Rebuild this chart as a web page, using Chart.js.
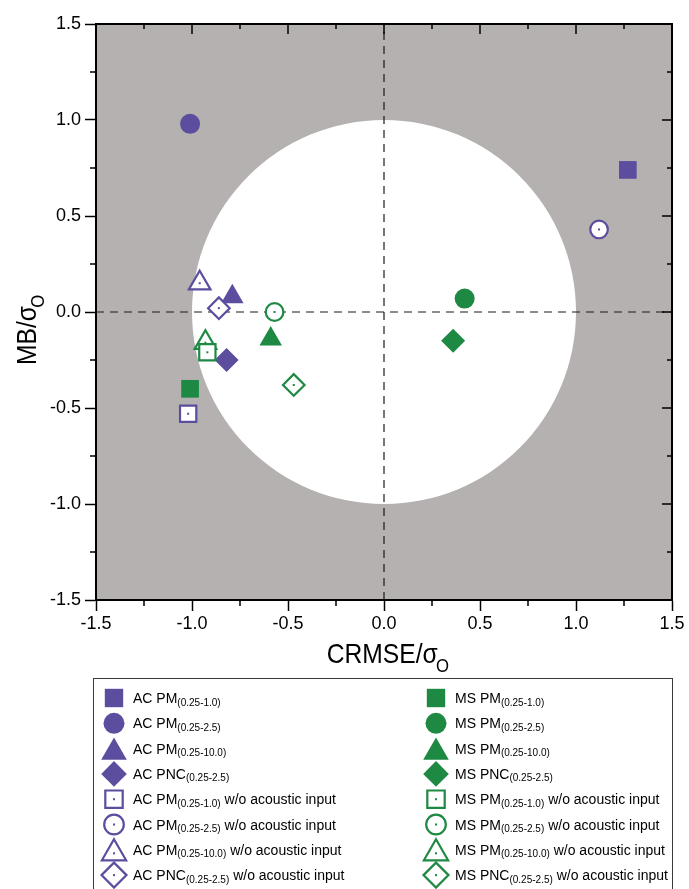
<!DOCTYPE html>
<html>
<head>
<meta charset="utf-8">
<title>Target diagram</title>
<script src="https://cdn.jsdelivr.net/npm/chart.js@4.4.1/dist/chart.umd.min.js"></script>
<style>
    html, body { margin: 0; padding: 0; background: #ffffff; }
    canvas { display: block; }
</style>
</head>
<body>
<canvas id="myChart" width="689" height="889"></canvas>
<script>
// x = CRMSE/sigma_O, y = MB/sigma_O
const metricMain = ['PM', 'PM', 'PM', 'PNC'];
const metricSub = ['(0.25-1.0)', '(0.25-2.5)', '(0.25-10.0)', '(0.25-2.5)'];
const noAcousticText = ' w/o acoustic input';

// AC
const acX = [1.27, -1.01, -0.79, -0.82];
const acY = [0.74, 0.98, 0.08, -0.25];
const acWoX = [-1.02, 1.12, -0.96, -0.86];
const acWoY = [-0.53, 0.43, 0.15, 0.02];

// MS
const msX = [-1.01, 0.42, -0.59, 0.36];
const msY = [-0.40, 0.07, -0.14, -0.15];
const msWoX = [-0.92, -0.57, -0.93, -0.47];
const msWoY = [-0.21, 0.00, -0.16, -0.38];

// axis ticks
const axisTicks = [-1.5, -1.0, -0.5, 0.0, 0.5, 1.0, 1.5];
const minorTicks = [-1.25, -0.75, -0.25, 0.25, 0.75, 1.25];

const colAC = '#5c4d9f';
const colMS = '#1e8943';
const grey = '#b5b1b0';
const fontFamily = '"Liberation Sans", Arial, sans-serif';

const pointStyles = ['rect', 'circle', 'triangle', 'rectRot'];
const filledRadius = [12.5, 10, 13, 12];
const openRadius = [11.5, 8.8, 12.5, 10.8];
const legendFilledRadius = [13, 10.5, 14.8, 12.8];
const legendOpenRadius = [12.3, 9.8, 14, 12.5];

const makeSets = function (group, color, xs, ys, open) {
    return metricMain.map((m, i) => ({
        label: group + ' ' + m + metricSub[i] + (open ? noAcousticText : ''),
        data: [{ x: xs[i], y: ys[i] }],
        pointStyle: pointStyles[i],
        pointRadius: open ? openRadius[i] : filledRadius[i],
        pointHoverRadius: open ? openRadius[i] : filledRadius[i],
        backgroundColor: open ? '#ffffff' : color,
        borderColor: color,
        borderWidth: open ? 2.2 : 0,
        hoverBorderWidth: open ? 2.2 : 0,
        isOpen: open
    }));
};

// open symbols first so they sit on top
const datasets = [].concat(
    makeSets('AC', colAC, acWoX, acWoY, true),
    makeSets('MS', colMS, msWoX, msWoY, true),
    makeSets('AC', colAC, acX, acY, false),
    makeSets('MS', colMS, msX, msY, false)
);

const drawMarker = function (ctx, style, radius, x, y, color, open) {
    ctx.save();
    ctx.fillStyle = open ? '#ffffff' : color;
    ctx.strokeStyle = color;
    ctx.lineWidth = 2.2;
    Chart.helpers.drawPoint(ctx, { pointStyle: style, radius: radius, rotation: 0, borderWidth: open ? 2.2 : 0 }, x, y);
    if (open) {
        ctx.fillStyle = color;
        ctx.fillRect(x - 1, y - 1, 2, 2);
    }
    ctx.restore();
};

const drawSigmaTitle = function (ctx, main) {
    ctx.save();
    ctx.scale(0.88, 1);
    ctx.fillStyle = '#000';
    ctx.textAlign = 'left';
    ctx.textBaseline = 'alphabetic';
    ctx.font = '28px ' + fontFamily;
    ctx.fillText(main + 'σ', 0, 0);
    const w = ctx.measureText(main + 'σ').width;
    ctx.font = '19px ' + fontFamily;
    ctx.fillText('O', w - 2, 8.7);
    ctx.restore();
};

const targetPlugin = {
    id: 'targetPlugin',
    beforeDraw(chart) {
        const { ctx, chartArea: a, scales } = chart;
        ctx.save();
        ctx.fillStyle = grey;
        ctx.fillRect(a.left, a.top, a.right - a.left, a.bottom - a.top);
        // unit circle
        const cx = scales.x.getPixelForValue(0);
        const cy = scales.y.getPixelForValue(0);
        const r = scales.x.getPixelForValue(1) - cx;
        ctx.beginPath();
        ctx.rect(a.left, a.top, a.right - a.left, a.bottom - a.top);
        ctx.clip();
        ctx.beginPath();
        ctx.arc(cx, cy, r, 0, Math.PI * 2);
        ctx.fillStyle = '#ffffff';
        ctx.fill();
        ctx.restore();
    },
    beforeDatasetsDraw(chart) {
        const { ctx, chartArea: a, scales } = chart;
        const cx = scales.x.getPixelForValue(0);
        const cy = scales.y.getPixelForValue(0);
        ctx.save();
        ctx.strokeStyle = '#1a1a1a';
        ctx.lineWidth = 1.2;
        ctx.setLineDash([8, 6]);
        ctx.beginPath();
        ctx.moveTo(a.left, cy);
        ctx.lineTo(a.right, cy);
        ctx.moveTo(cx, a.bottom);
        ctx.lineTo(cx, a.top);
        ctx.stroke();
        ctx.restore();
    },
    afterDatasetsDraw(chart) {
        const ctx = chart.ctx;
        // centre dots of the open symbols
        chart.data.datasets.forEach((ds, i) => {
            if (!ds.isOpen) return;
            chart.getDatasetMeta(i).data.forEach(pt => {
                ctx.fillStyle = ds.borderColor;
                ctx.fillRect(pt.x - 1, pt.y - 1, 2, 2);
            });
        });
    },
    afterDraw(chart) {
        const { ctx, chartArea: a, scales } = chart;
        ctx.save();
        // top and right frame
        ctx.strokeStyle = '#000';
        ctx.lineWidth = 2;
        ctx.beginPath();
        ctx.moveTo(a.left, a.top);
        ctx.lineTo(a.right, a.top);
        ctx.lineTo(a.right, a.bottom);
        ctx.stroke();

        // inner ticks on top / right, minor ticks everywhere
        ctx.lineWidth = 1.5;
        ctx.beginPath();
        axisTicks.forEach(v => {
            const px = scales.x.getPixelForValue(v);
            const py = scales.y.getPixelForValue(v);
            ctx.moveTo(px, a.top); ctx.lineTo(px, a.top + 10);
            ctx.moveTo(a.right, py); ctx.lineTo(a.right - 10, py);
        });
        minorTicks.forEach(v => {
            const px = scales.x.getPixelForValue(v);
            const py = scales.y.getPixelForValue(v);
            ctx.moveTo(px, a.top); ctx.lineTo(px, a.top + 5);
            ctx.moveTo(a.right, py); ctx.lineTo(a.right - 5, py);
            ctx.moveTo(px, a.bottom); ctx.lineTo(px, a.bottom + 6);
            ctx.moveTo(a.left, py); ctx.lineTo(a.left - 6, py);
        });
        ctx.stroke();

        // axis titles
        ctx.save();
        ctx.translate(326.7, 663);
        drawSigmaTitle(ctx, 'CRMSE/');
        ctx.restore();
        ctx.save();
        ctx.translate(35.7, 365);
        ctx.rotate(-Math.PI / 2);
        drawSigmaTitle(ctx, 'MB/');
        ctx.restore();

        // legend box
        ctx.strokeStyle = '#3a3a3a';
        ctx.lineWidth = 1;
        ctx.strokeRect(93.5, 678.5, 579, 240);

        const rowTop = 698;
        const rowStep = 25.3;
        const cols = [
            { group: 'AC', color: colAC, mx: 114, tx: 133 },
            { group: 'MS', color: colMS, mx: 436, tx: 455 }
        ];
        cols.forEach(c => {
            for (let k = 0; k < 8; k++) {
                const open = k >= 4;
                const i = k % 4;
                const y = rowTop + k * rowStep;
                const r = open ? legendOpenRadius[i] : legendFilledRadius[i];
                const my = pointStyles[i] === 'triangle' ? y + r / 4 : y;
                drawMarker(ctx, pointStyles[i], r, c.mx, my, c.color, open);

                let x = c.tx;
                const base = y + 5;
                ctx.fillStyle = '#000';
                ctx.textAlign = 'left';
                ctx.textBaseline = 'alphabetic';
                ctx.font = '14px ' + fontFamily;
                const t = c.group + ' ' + metricMain[i];
                ctx.fillText(t, x, base);
                x += ctx.measureText(t).width;
                ctx.font = '10px ' + fontFamily;
                ctx.fillText(metricSub[i], x, base + 2.5);
                x += ctx.measureText(metricSub[i]).width;
                if (open) {
                    ctx.font = '14px ' + fontFamily;
                    ctx.fillText(noAcousticText, x, base);
                }
            }
        });
        ctx.restore();
    }
};

const ctx = document.getElementById('myChart').getContext('2d');
const myChart = new Chart(ctx, {
    type: 'scatter',
    data: { datasets: datasets },
    options: {
        responsive: false,
        animation: false,
        devicePixelRatio: 1,
        events: [],
        layout: { padding: { top: 24, right: 17, left: 0, bottom: 0 } },
        plugins: {
            legend: { display: false },
            tooltip: { enabled: false },
            title: { display: false }
        },
        scales: {
            x: {
                type: 'linear',
                min: -1.5,
                max: 1.5,
                afterBuildTicks: scale => { scale.ticks = axisTicks.map(v => ({ value: v })); },
                afterFit: scale => { scale.height = 289; },
                border: { display: true, color: '#000', width: 2 },
                grid: { drawOnChartArea: false, drawTicks: true, tickLength: 11, tickWidth: 1.5, tickColor: '#000' },
                ticks: {
                    autoSkip: false,
                    maxRotation: 0,
                    padding: 2,
                    color: '#000',
                    font: { family: fontFamily, size: 18 },
                    callback: v => v.toFixed(1)
                }
            },
            y: {
                type: 'linear',
                min: -1.5,
                max: 1.5,
                afterBuildTicks: scale => { scale.ticks = axisTicks.map(v => ({ value: v })); },
                afterFit: scale => { scale.width = 96; },
                border: { display: true, color: '#000', width: 2 },
                grid: { drawOnChartArea: false, drawTicks: true, tickLength: 11, tickWidth: 1.5, tickColor: '#000' },
                ticks: {
                    autoSkip: false,
                    padding: 4,
                    color: '#000',
                    font: { family: fontFamily, size: 18 },
                    callback: v => v.toFixed(1)
                }
            }
        }
    },
    plugins: [targetPlugin]
});
</script>
</body>
</html>
